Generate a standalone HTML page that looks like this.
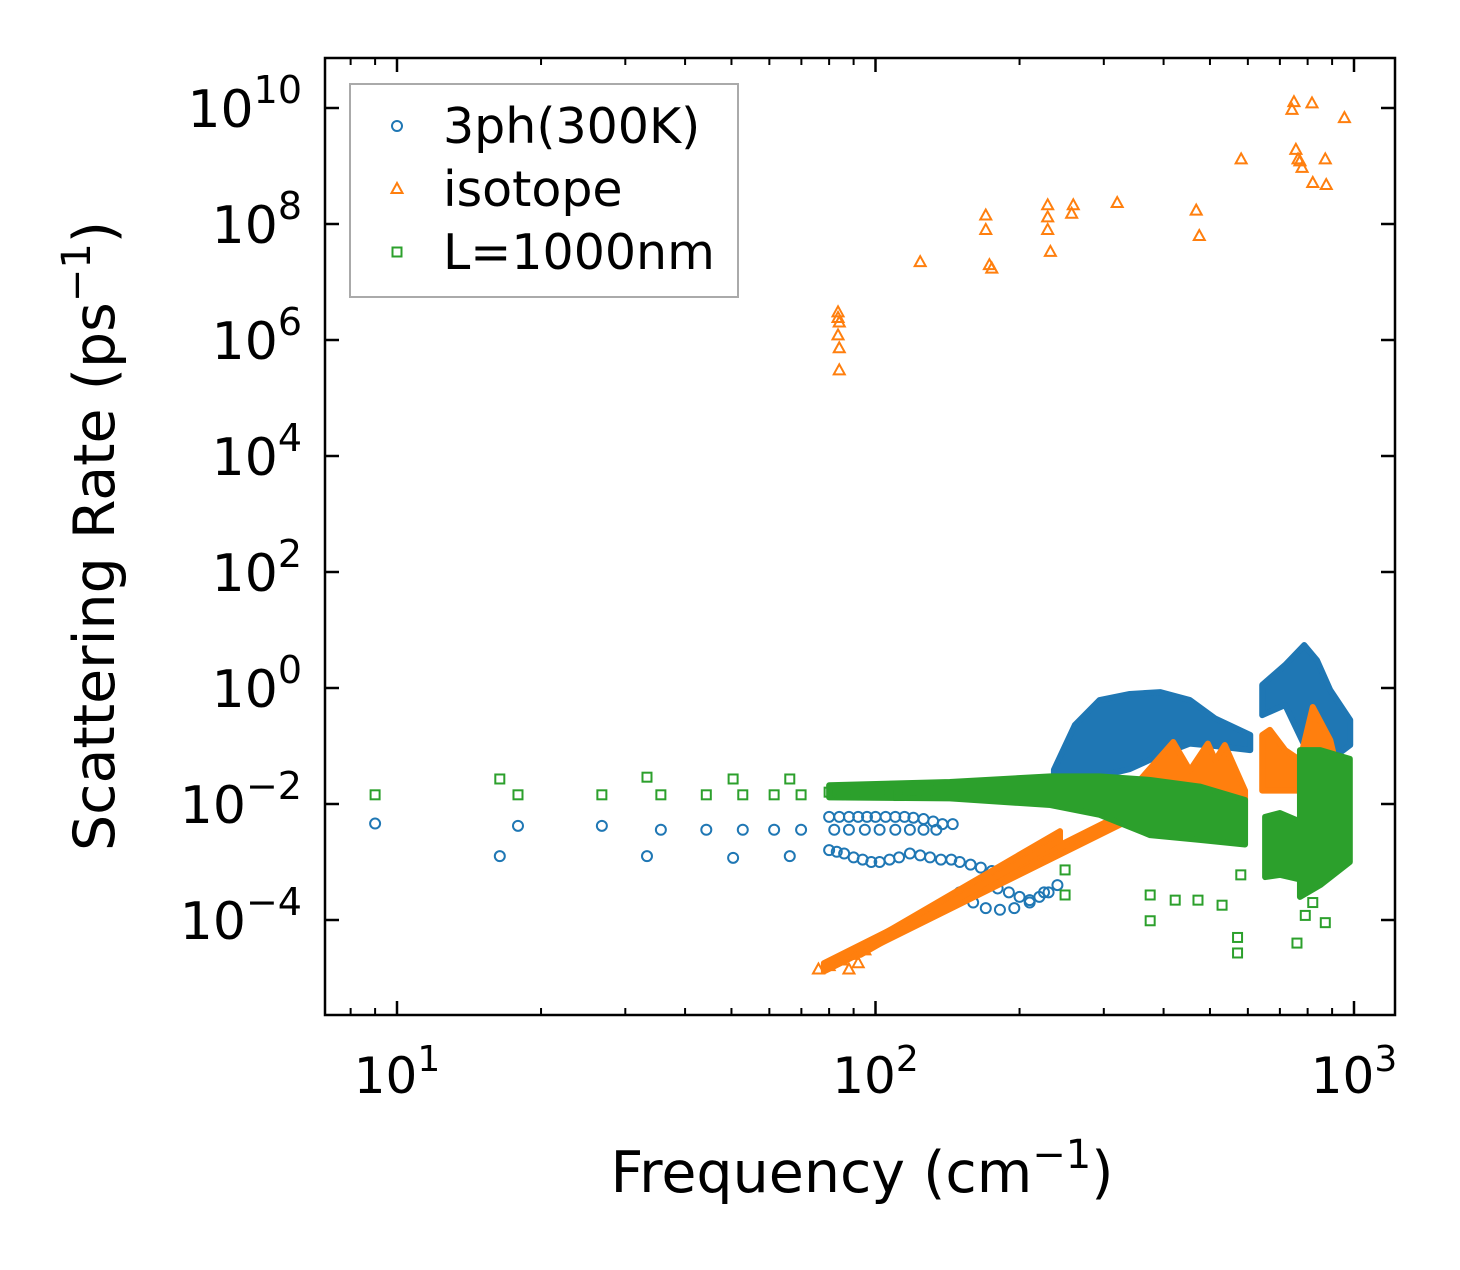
<!DOCTYPE html>
<html><head><meta charset="utf-8"><style>
body{margin:0;background:#fff}
svg text{font-family:"DejaVu Sans","Liberation Sans",sans-serif;fill:#000}
</style></head><body>
<svg id="chart" width="1460" height="1265" viewBox="0 0 1460 1265" xmlns="http://www.w3.org/2000/svg">
<rect width="1460" height="1265" fill="#fff"/>
<g id="marks"></g>
<g id="axes"></g>
</svg>
<script>
const xTicks=[10,100,1000];
const xTickLabels=["1","2","3"];
const yTicks=[1e-4,1e-2,1,1e2,1e4,1e6,1e8,1e10];
const yTickLabels=["−4","−2","0","2","4","6","8","10"];

// blue scatter (3ph)
const blueF=[9.0,16.4,17.9,26.8,33.3,35.6,44.3,50.4,52.8,61.4,66.2,69.9,
80,84,88,92,96,100,105,110,115,120,126,132,138,145,
82,88,95,102,110,118,126,134,
80,83,86,90,94,98,102,107,112,118,124,130,137,144,150,158,166,175,
150,160,170,182,195,210,225,
180,190,200,210,220,230,240];
const blueR=[0.0046,0.00126,0.0042,0.0042,0.00126,0.0036,0.0036,0.00118,0.0036,0.0036,0.00126,0.0036,
0.006,0.006,0.006,0.006,0.006,0.006,0.006,0.006,0.006,0.0058,0.0055,0.005,0.0045,0.0045,
0.0036,0.0036,0.0036,0.0036,0.0036,0.0036,0.0036,0.0036,
0.0016,0.0015,0.0014,0.0012,0.0011,0.001,0.001,0.0011,0.0012,0.0014,0.0013,0.0012,0.0011,0.0011,0.001,0.0009,0.0008,0.0007,
0.0003,0.0002,0.00016,0.00015,0.00016,0.0002,0.0003,
0.00035,0.0003,0.00025,0.00022,0.00025,0.0003,0.0004];
// blue dense regions
const blueBand1F=[236,261,294,340,394,454,512,607];
const blueBand1Hi=[0.039,0.23,0.62,0.79,0.85,0.62,0.30,0.155];
const blueBand1Lo=[0.02,0.022,0.03,0.04,0.07,0.11,0.1,0.085];
const blueBand2F=[643,718,787,837,892,982];
const blueBand2Hi=[1.13,2.5,5.5,3.0,0.92,0.28];
const blueBand2Lo=[0.34,0.51,0.104,0.057,0.057,0.104];

// orange scatter (isotope)
const orangeF=[83.5,83.5,84,83.5,84,84,124,170,170,173,175,229,229,229,232,257,259,320,468,475,581,742,749,756,764,771,779,817,820,871,875,955,
76,80,85,90,95,88,92];
const orangeR=[3e6,2.4e6,2e6,1.2e6,7.2e5,3e5,2.2e7,1.4e8,7.9e7,1.95e7,1.7e7,2.1e8,1.3e8,7.9e7,3.3e7,1.5e8,2.1e8,2.3e8,1.7e8,6.2e7,1.3e9,9.3e9,1.26e10,1.9e9,1.3e9,1.2e9,9.3e8,1.2e10,5.1e8,1.3e9,4.7e8,6.7e9,
1.4e-5,1.6e-5,2.0e-5,2.5e-5,3.0e-5,1.4e-5,1.8e-5];
const orangeBand1F=[78,357];
const orangeBand1Hi=[1.8e-5,0.0096];
const orangeBand1Lo=[1.3e-5,0.0065];
const orangeBand2F=[93,243];
const orangeBand2Hi=[3.4e-5,0.0034];
const orangeBand2Lo=[2.5e-5,0.0024];
const orangeBand3F=[357,419,454,495,513,537,592];
const orangeBand3Hi=[0.026,0.117,0.038,0.11,0.057,0.104,0.017];
const orangeBand3Lo=[0.0065,0.006,0.006,0.0058,0.0056,0.0055,0.0053];
const orangeBand4F=[643,667,718,771,820,892,934];
const orangeBand4Hi=[0.155,0.19,0.085,0.057,0.47,0.127,0.026];
const orangeBand4Lo=[0.017,0.017,0.017,0.017,0.017,0.017,0.017];

// green scatter (L=1000nm)
const greenF=[9.0,16.4,17.9,26.8,33.3,35.6,44.3,50.4,52.8,61.4,66.2,69.9,
80,85,90,95,100,106,112,120,128,136,
249,249,375,375,423,472,530,571,571,580,791,760,871,820];
const greenR=[0.0144,0.027,0.0144,0.0144,0.029,0.0144,0.0144,0.027,0.0144,0.0144,0.027,0.0144,
0.016,0.018,0.015,0.017,0.016,0.015,0.014,0.016,0.015,0.018,
0.00027,0.00073,9.7e-5,0.00027,0.00022,0.00022,0.00018,2.7e-5,5e-5,0.0006,1.2e-4,4e-5,9e-5,2e-4];
const greenBandF=[80,143,232,294,375,476,592];
const greenBandHi=[0.021,0.024,0.03,0.03,0.026,0.02,0.0117];
const greenBandLo=[0.013,0.0125,0.0096,0.0065,0.0029,0.0024,0.0020];
const greenBand2F=[652,700,771];
const greenBand2Hi=[0.006,0.007,0.005];
const greenBand2Lo=[0.00055,0.0006,0.0005];
const greenBand3F=[771,850,980];
const greenBand3Hi=[0.085,0.085,0.06];
const greenBand3Lo=[0.00025,0.0004,0.001];

const L=325,R=1395,T=58,B=1015;
const X=f=>397+(Math.log10(f)-1)*478.5;
const Y=r=>688-Math.log10(r)*58;
const NS="http://www.w3.org/2000/svg";
const marks=document.getElementById('marks'), axes=document.getElementById('axes');
function mk(tag,attrs,parent){const e=document.createElementNS(NS,tag);for(const k in attrs)e.setAttribute(k,attrs[k]);parent.appendChild(e);return e;}
const BLUE="#1f77b4",ORANGE="#ff7f0e",GREEN="#2ca02c";

function band(F,Hi,Lo,col,name){
  const pts=F.map((f,i)=>X(f)+","+Y(Hi[i])).concat(F.map((f,i)=>X(f)+","+Y(Lo[i])).reverse());
  const p=mk('polygon',{points:pts.join(' '),fill:col,stroke:col,'stroke-width':6,'stroke-linejoin':'round'},marks);
  
  
}
function circ(x,y,col,parent){return mk('circle',{cx:x,cy:y,r:5,fill:'none',stroke:col,'stroke-width':2},parent);}
function tri(x,y,col,parent){return mk('polygon',{points:`${x},${y-6} ${x-5.5},${y+4} ${x+5.5},${y+4}`,fill:'none',stroke:col,'stroke-width':2},parent);}
function sq(x,y,col,parent){return mk('rect',{x:x-4.5,y:y-4.5,width:9,height:9,fill:'none',stroke:col,'stroke-width':2},parent);}

band(blueBand1F,blueBand1Hi,blueBand1Lo,BLUE,'3ph-dense-region-1');
band(blueBand2F,blueBand2Hi,blueBand2Lo,BLUE,'3ph-dense-region-2');
blueF.forEach((f,i)=>{const e=circ(X(f),Y(blueR[i]),BLUE,marks);

});
band(orangeBand1F,orangeBand1Hi,orangeBand1Lo,ORANGE,'isotope-band-1');
band(orangeBand2F,orangeBand2Hi,orangeBand2Lo,ORANGE,'isotope-band-2');
band(orangeBand3F,orangeBand3Hi,orangeBand3Lo,ORANGE,'isotope-band-3');
band(orangeBand4F,orangeBand4Hi,orangeBand4Lo,ORANGE,'isotope-band-4');
orangeF.forEach((f,i)=>{const e=tri(X(f),Y(orangeR[i]),ORANGE,marks);

});
band(greenBandF,greenBandHi,greenBandLo,GREEN,'boundary-band-1');
band(greenBand2F,greenBand2Hi,greenBand2Lo,GREEN,'boundary-band-2');
band(greenBand3F,greenBand3Hi,greenBand3Lo,GREEN,'boundary-band-3');
greenF.forEach((f,i)=>{const e=sq(X(f),Y(greenR[i]),GREEN,marks);

});

const fr=mk('rect',{x:L,y:T,width:R-L,height:B-T,fill:'none',stroke:'#000','stroke-width':2.5},axes);


for(let d=0;d<4;d++){for(let m=1;m<10;m++){const v=m*Math.pow(10,d);const x=X(v);if(x<L||x>R)continue;
 const len=m===1?14:7,w=m===1?2.5:2;
 mk('line',{x1:x,y1:B,x2:x,y2:B-len,stroke:'#000','stroke-width':w},axes);
 mk('line',{x1:x,y1:T,x2:x,y2:T+len,stroke:'#000','stroke-width':w},axes);}}
xTicks.forEach((v,i)=>{const t=mk('text',{x:X(v),y:1093,'text-anchor':'middle','font-size':50},axes);


t.innerHTML=`10<tspan dy="-22" font-size="36">${xTickLabels[i]}</tspan>`;});
yTicks.forEach((v,i)=>{const y=Y(v);
 mk('line',{x1:L,y1:y,x2:L+14,y2:y,stroke:'#000','stroke-width':2.5},axes);
 mk('line',{x1:R,y1:y,x2:R-14,y2:y,stroke:'#000','stroke-width':2.5},axes);
 const t=mk('text',{x:302,y:y+19,'text-anchor':'end','font-size':52},axes);
 
 
 t.innerHTML=`10<tspan dy="-24" font-size="38">${yTickLabels[i]}</tspan>`;});
const xt=mk('text',{x:862,y:1192,'text-anchor':'middle','font-size':57},axes);


xt.innerHTML='Frequency (cm<tspan dy="-24" font-size="40">−1</tspan><tspan dy="24">)</tspan>';
const yt=mk('text',{x:0,y:0,'text-anchor':'middle','font-size':57,transform:'translate(114,536) rotate(-90)'},axes);


yt.innerHTML='Scattering Rate (ps<tspan dy="-24" font-size="40">−1</tspan><tspan dy="24">)</tspan>';

const lg=mk('g',{},axes);


mk('rect',{x:350,y:84,width:388,height:213,fill:'#fff','fill-opacity':0.8,stroke:'#aaa','stroke-width':2},lg);
const labels=["3ph(300K)","isotope","L=1000nm"],cols=[BLUE,ORANGE,GREEN],fns=[circ,tri,sq],names=['legend-entry-3ph','legend-entry-isotope','legend-entry-boundary'];
labels.forEach((s,i)=>{const y=126+i*63;const g=mk('g',{},lg);
 
 
 fns[i](397,y,cols[i],g);
 const t=mk('text',{x:443,y:y+17,'font-size':49},g);t.textContent=s;});
</script>
</body></html>
